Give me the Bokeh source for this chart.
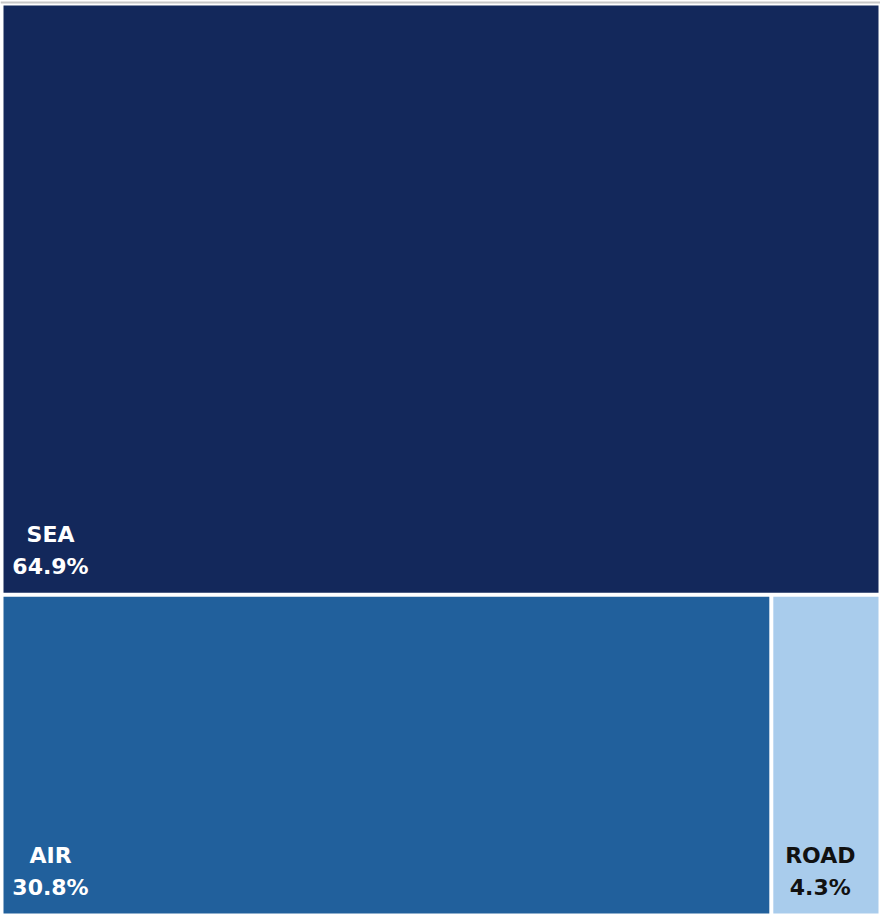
from bokeh.plotting import figure
from bokeh.models import ColumnDataSource, Range1d, Span
from bokeh.embed import file_html
from bokeh.resources import INLINE
from bokeh.core.properties import value

# ---- data ----
categories = ["SEA", "AIR", "ROAD"]
shares = [64.9, 30.8, 4.3]
colors = ["#13285B", "#21609C", "#A9CCEC"]
text_colors = ["#FFFFFF", "#FFFFFF", "#111111"]

W, H = 880, 916
# treemap area inside the canvas
X0, X1, Y0, Y1 = 3, 878, 3, 911
GAP = 4

# slice-and-dice treemap layout: first item takes a full-width row on top,
# the remaining items split the bottom row horizontally.
total = sum(shares)
AW, AH = X1 - X0, Y1 - Y0
split_y = Y1 - AH * shares[0] / total
rest = sum(shares[1:])
lefts, rights, bottoms, tops = [float(X0)], [float(X1)], [split_y + GAP / 2], [float(Y1)]
x = float(X0)
for i, s in enumerate(shares[1:]):
    w = AW * s / rest
    lefts.append(x + (GAP / 2 if i > 0 else 0))
    rights.append(x + w - (GAP / 2 if i < len(shares) - 2 else 0))
    bottoms.append(float(Y0))
    tops.append(split_y - GAP / 2)
    x += w

src = ColumnDataSource(dict(
    left=lefts, right=rights, bottom=bottoms, top=tops,
    color=colors, tcolor=text_colors,
    name=categories,
    pct=[f"{s:.1f}%" for s in shares],
    tx=[l + 47 for l in lefts],
    ty=bottoms,
))

p = figure(width=W, height=H, output_backend="svg", toolbar_location=None,
           x_range=Range1d(0, W), y_range=Range1d(0, H),
           min_border=0, min_border_left=0, min_border_right=0,
           min_border_top=0, min_border_bottom=0)
p.axis.visible = False
p.grid.visible = False
p.outline_line_color = None
p.background_fill_color = "white"

p.add_layout(Span(location=H - 2, dimension="width",
                  line_color="#C8C8C8", line_width=2))

p.quad(left="left", right="right", bottom="bottom", top="top",
       fill_color="color", line_color=None, source=src)

p.text(x="tx", y="ty", text="name", text_color="tcolor",
       text_font=value("DejaVu Sans"), text_font_style="bold",
       text_font_size="22px", text_align="center", text_baseline="middle",
       y_offset=-58, source=src)
p.text(x="tx", y="ty", text="pct", text_color="tcolor",
       text_font=value("DejaVu Sans"), text_font_style="bold",
       text_font_size="22px", text_align="center", text_baseline="middle",
       y_offset=-26, source=src)

open("out.html", "w").write(file_html(p, INLINE))
